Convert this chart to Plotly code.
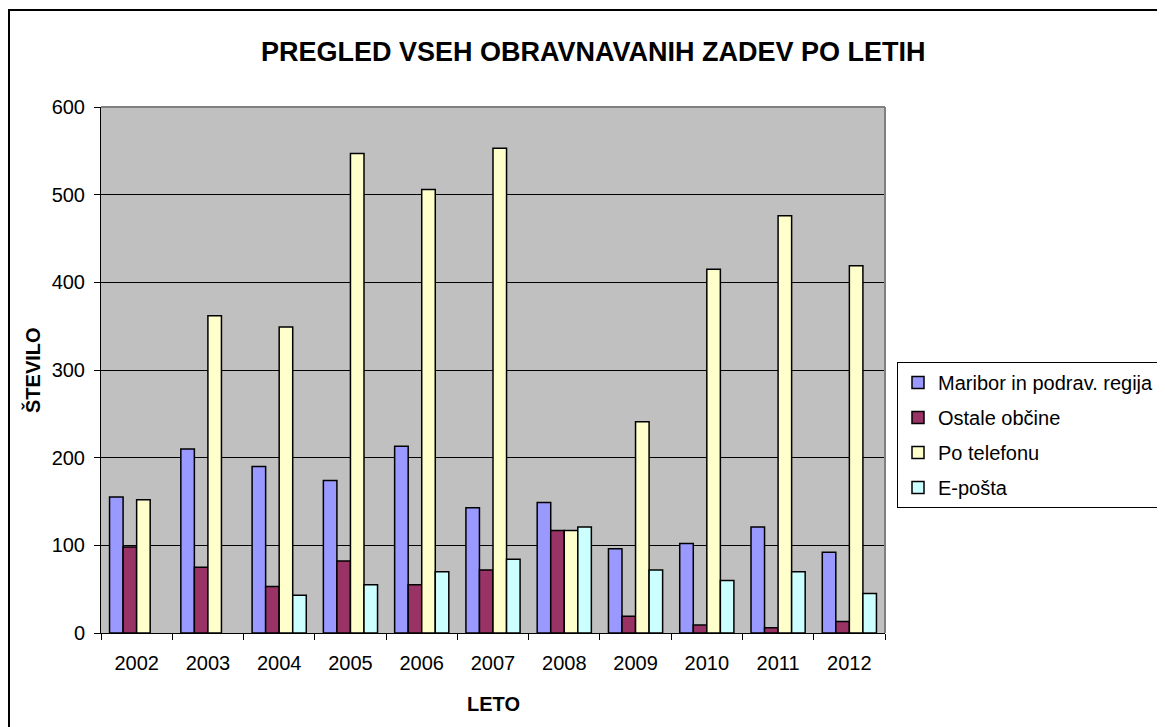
import plotly.graph_objects as go

years = ["2002", "2003", "2004", "2005", "2006", "2007", "2008", "2009", "2010", "2011", "2012"]
maribor = [155, 210, 190, 174, 213, 143, 149, 96, 102, 121, 92]
ostale = [98, 75, 53, 82, 55, 72, 117, 19, 9, 6, 13]
telefon = [152, 362, 349, 547, 506, 553, 117, 241, 415, 476, 419]
eposta = [None, None, 43, 55, 70, 84, 121, 72, 60, 70, 45]

series = [
    ("Maribor in podrav. regija", maribor, "#9999FF"),
    ("Ostale občine", ostale, "#993366"),
    ("Po telefonu", telefon, "#FFFFCC"),
    ("E-pošta", eposta, "#CCFFFF"),
]

FONT = "Liberation Sans, Arial, sans-serif"

fig = go.Figure()
for i, (name, vals, col) in enumerate(series):
    fig.add_trace(go.Bar(
        x=years, y=vals, name=name, legendgroup=f"g{i}",
        marker=dict(color=col, line=dict(color="black", width=1.5)),
    ))

# page offset (body margin) compensation
OFF = 8
L, R, T, B = 101 - OFF, 885 - OFF, 107 - OFF, 633 - OFF
W, H = 1165 - OFF, 727 - OFF
pw, ph = R - L, B - T

def px2x(px):
    return (px - OFF - L) / pw

def py2y(py):
    return (B - (py - OFF)) / ph

fig.update_layout(
    width=W, height=H,
    margin=dict(l=L, r=W - R, t=T, b=H - B, autoexpand=False),
    paper_bgcolor="white",
    plot_bgcolor="#C0C0C0",
    barmode="group", bargap=0.24, bargroupgap=0,
    font=dict(family=FONT, size=20, color="black"),
    showlegend=True,
    legend=dict(
        x=px2x(897), y=py2y(362), xanchor="left", yanchor="top",
        bordercolor="black", borderwidth=1, bgcolor="white",
        font=dict(size=20), traceorder="grouped", tracegroupgap=6,
        itemwidth=30,
    ),
    xaxis=dict(
        showline=True, linecolor="black", linewidth=1,
        ticks="outside", ticklen=6, tickcolor="black", tickson="boundaries",
        tickfont=dict(size=20), showgrid=False, ticklabelstandoff=12,
    ),
    yaxis=dict(
        range=[0, 600], dtick=100, showline=True, linecolor="black", linewidth=1,
        ticks="outside", ticklen=6, tickcolor="black",
        showgrid=True, gridcolor="black", gridwidth=1,
        tickfont=dict(size=20), zeroline=False, ticklabelstandoff=5,
    ),
    annotations=[
        dict(text="<b>PREGLED VSEH OBRAVNAVANIH ZADEV PO LETIH</b>",
             xref="paper", yref="paper", x=px2x(593.5), y=py2y(52),
             xanchor="center", yanchor="middle", showarrow=False,
             font=dict(size=27, family=FONT)),
        dict(text="<b>LETO</b>", xref="paper", yref="paper",
             x=px2x(493), y=py2y(704), xanchor="center", yanchor="middle",
             showarrow=False, font=dict(size=20, family=FONT)),
        dict(text="<b>ŠTEVILO</b>", xref="paper", yref="paper",
             x=px2x(32), y=py2y(370), xanchor="center", yanchor="middle",
             textangle=-90, showarrow=False, font=dict(size=20, family=FONT)),
    ],
    shapes=[
        dict(type="rect", xref="paper", yref="paper",
             x0=px2x(9), x1=px2x(1200), y0=py2y(760), y1=py2y(10),
             line=dict(color="black", width=2), fillcolor="rgba(0,0,0,0)", layer="below"),
        dict(type="line", xref="paper", yref="paper", x0=0, x1=1, y0=1, y1=1,
             line=dict(color="#808080", width=2)),
        dict(type="line", xref="paper", yref="paper", x0=1, x1=1, y0=0, y1=1,
             line=dict(color="#808080", width=2)),
    ],
)

fig.write_html("out.html")
